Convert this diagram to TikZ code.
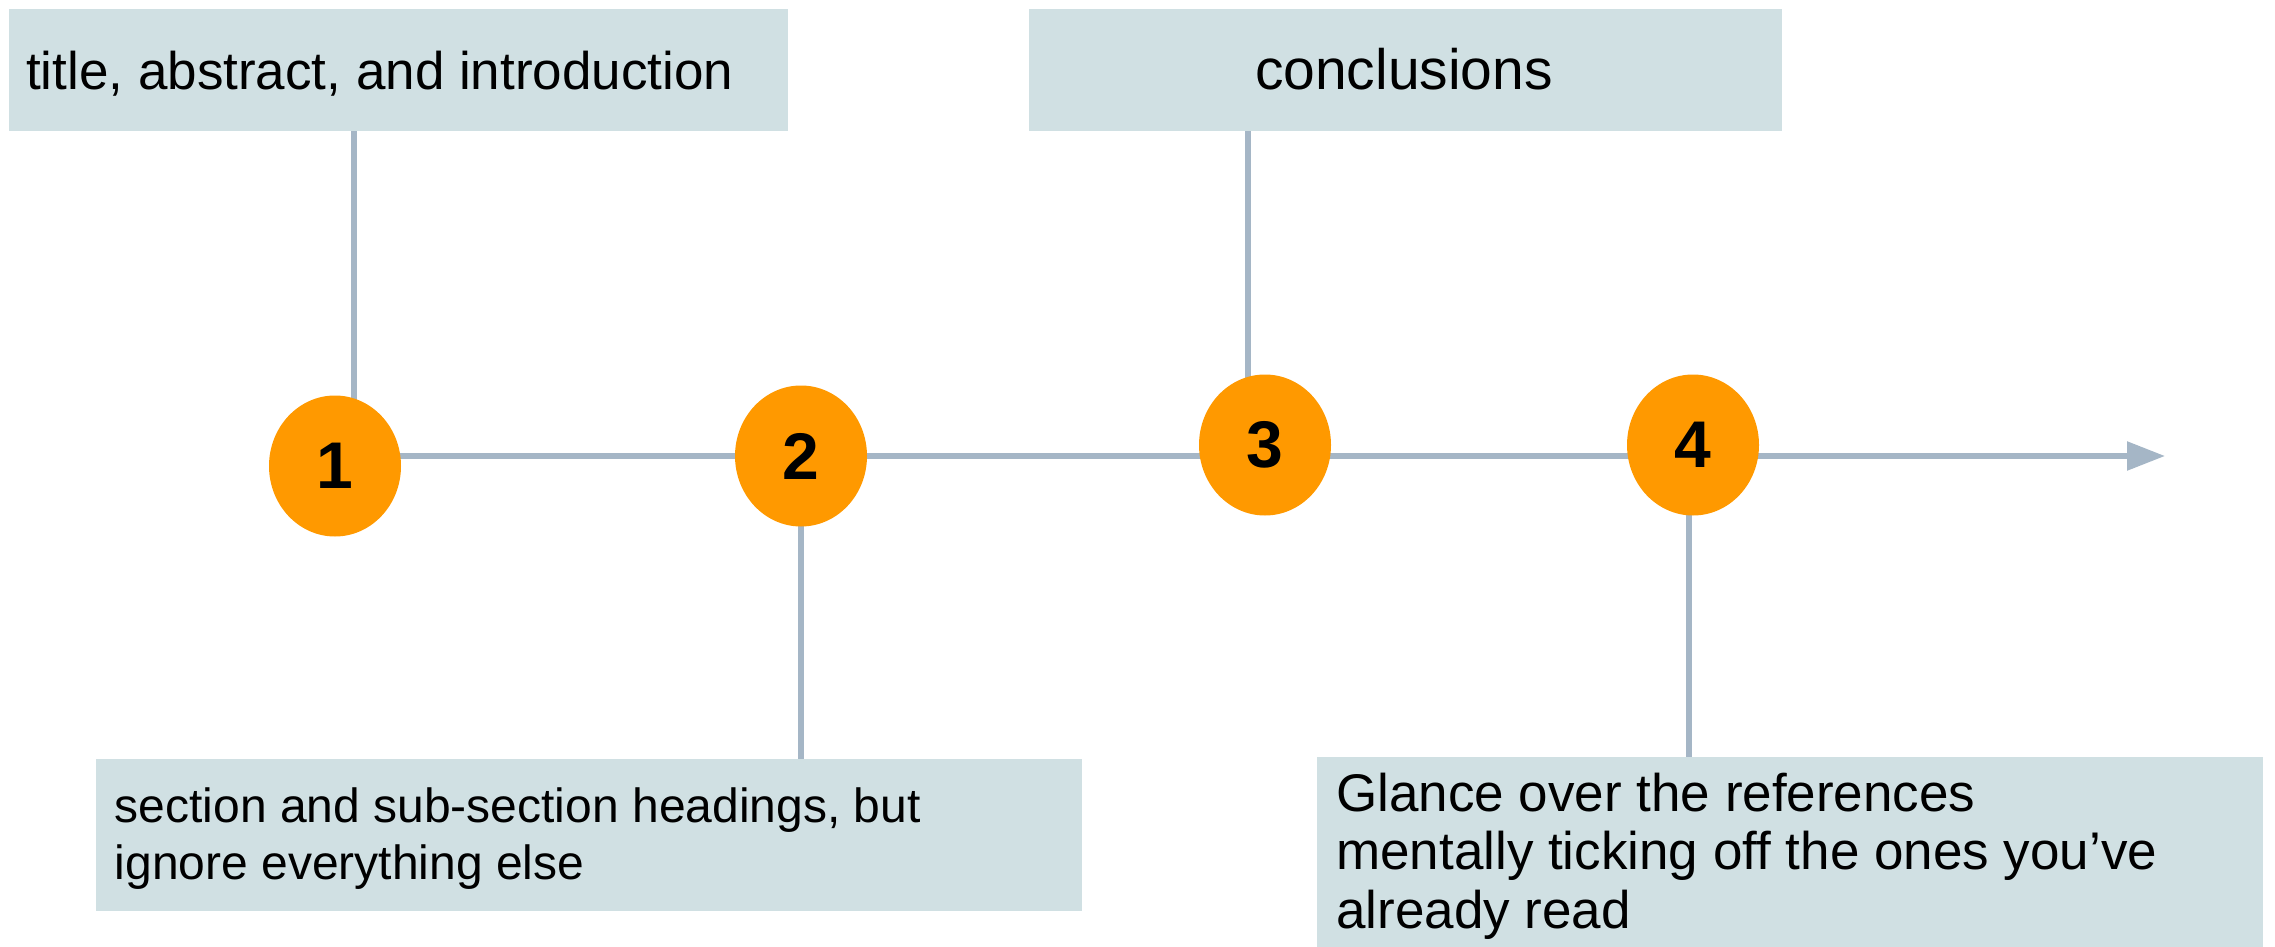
\documentclass[tikz,border=0pt]{standalone}
\usepackage{fontspec}
\setmainfont{Liberation Sans}
\usetikzlibrary{shapes.geometric,arrows.meta,backgrounds}
\definecolor{boxfill}{HTML}{D0E0E3}
\definecolor{axisgray}{HTML}{A5B6C6}
\definecolor{stepfill}{HTML}{FF9900}
\begin{document}
\begin{tikzpicture}[x=1pt,y=-1pt,
  card/.style={rectangle, fill=boxfill, draw=none, inner sep=0pt},
  stepdot/.style={ellipse, fill=stepfill, draw=none, inner sep=0pt,
    minimum width=132pt, minimum height=141pt,
    font=\fontsize{66}{72}\selectfont\bfseries},
  link/.style={draw=axisgray, line width=5.5pt},
  cardtext/.style={anchor=base west, inner sep=0pt}]
\useasboundingbox (0,0) rectangle (2275,947);

% text cards
\node[card, minimum width=779pt, minimum height=122pt] (box1) at (398.5,70) {};
\node[card, minimum width=753pt, minimum height=122pt] (box3) at (1405.5,70) {};
\node[card, minimum width=986pt, minimum height=152pt] (box2) at (589,835) {};
\node[card, minimum width=946pt, minimum height=190pt] (box4) at (1790,852) {};

\node[cardtext, font=\fontsize{53}{60}\selectfont] (t1) at (26,90)
  {title, abstract, and introduction};
\node[cardtext, anchor=base, font=\fontsize{57}{64}\selectfont] (t3) at (1404,90)
  {conclusions};
\node[cardtext, font=\fontsize{48}{57}\selectfont] (t2) at (114.6,822.6)
  {\begin{tabular}[t]{@{}l@{}}section and sub-section headings, but\\ ignore everything else\end{tabular}};
\node[cardtext, font=\fontsize{53}{58.5}\selectfont] (t4) at (1336,811)
  {\begin{tabular}[t]{@{}l@{}}Glance over the references\\ mentally ticking off the ones you’ve\\ already read\end{tabular}};

% numbered steps
\node[stepdot] (c1) at (335,466) {1};
\node[stepdot] (c2) at (801,456) {2};
\node[stepdot] (c3) at (1265,445) {3};
\node[stepdot] (c4) at (1693,445) {4};

\coordinate (k1) at (354,0);
\coordinate (k3) at (1248,0);
\coordinate (k4) at (1689,0);
\coordinate (tip) at (2165,456);

% connectors and time axis behind the steps
\begin{scope}[on background layer]
  \draw[link, -{Triangle[length=38pt,width=28pt]}] (c1.center |- c2.center) -- (tip);
  \draw[link] (box1.south -| k1) -- (c1.center -| k1);
  \draw[link] (c2.center) -- (box2.north -| c2.center);
  \draw[link] (box3.south -| k3) -- (c3.center -| k3);
  \draw[link] (c4.center -| k4) -- (box4.north -| k4);
\end{scope}
\end{tikzpicture}
\end{document}
